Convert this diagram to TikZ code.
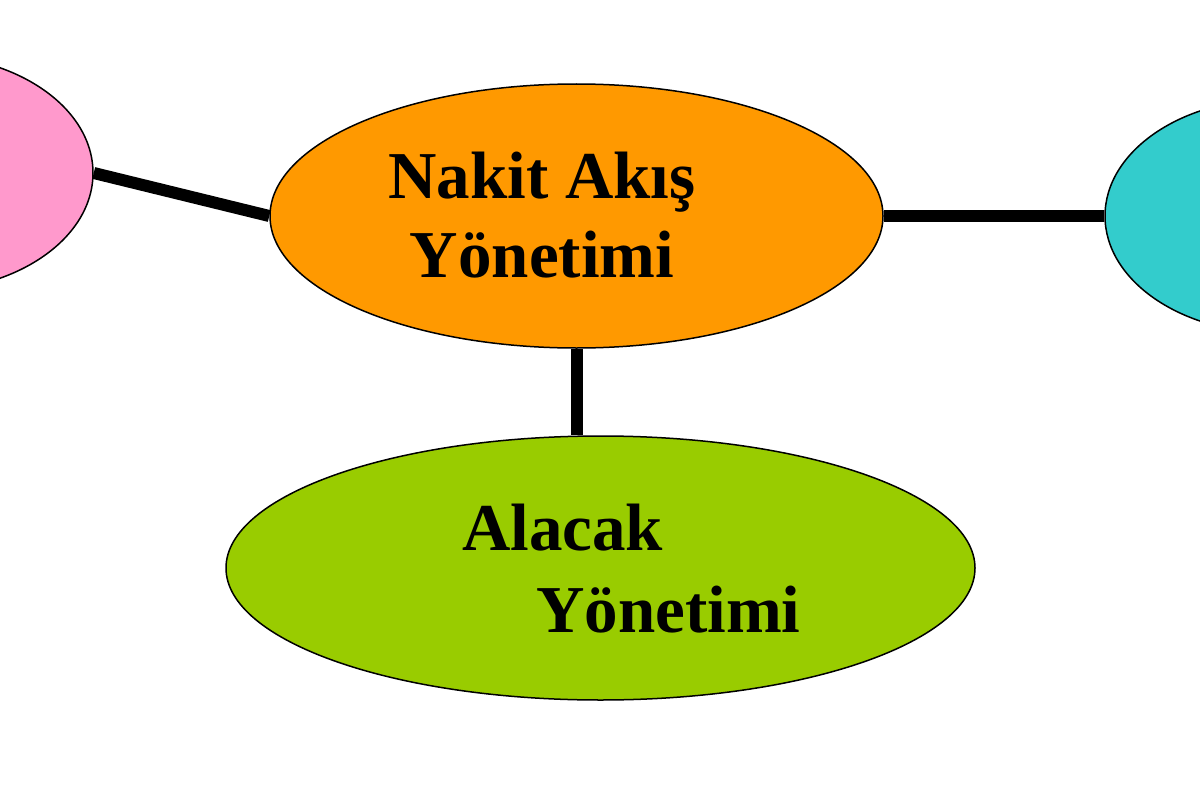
\documentclass[tikz,border=0pt]{standalone}
\usepackage{fontspec}
\setmainfont{Liberation Serif}
\usepackage{xcolor}
\usepackage{tikz}
\usetikzlibrary{shapes.geometric, calc}
\definecolor{pembe}{HTML}{FF99CC}
\definecolor{turuncu}{HTML}{FF9900}
\definecolor{turkuaz}{HTML}{33CCCC}
\definecolor{yesil}{HTML}{99CC00}

\begin{document}
\begin{tikzpicture}[x=1pt, y=-1pt,
    oval/.style={ellipse, draw, line width=1.5pt, inner sep=0pt},
    bag/.style={line width=12pt},
    yazi/.style={font=\fontsize{67}{80}\selectfont\bfseries, inner sep=0pt}]
      \useasboundingbox (0,0) rectangle (1200,800);
      \node[oval, fill=pembe, minimum width=340pt, minimum height=236pt] (pink) at (-77,173) {};
      \node[oval, fill=turkuaz, minimum width=340pt, minimum height=234pt] (cyan) at (1275,216) {};
      \node[oval, fill=turuncu, minimum width=613pt, minimum height=264pt] (orange) at (576.5,216) {};
      \node[oval, fill=yesil, minimum width=749pt, minimum height=264pt] (green) at (600.5,568) {};
      \node[yazi, align=center, anchor=base] (nakit) at (542,277) {Nakit Akış\\[-1pt]Yönetimi};
      \node[yazi, align=left, anchor=base west] (alacak) at (462,632) {Alacak\\[2pt]\hspace*{74pt}Yönetimi};
      \draw[bag] (pink.east) -- (orange.west);
      \draw[bag] (orange.east) -- (cyan.west);
      \draw[bag] (orange.south) -- (orange.south |- green.north);
    \end{tikzpicture}
\end{document}
